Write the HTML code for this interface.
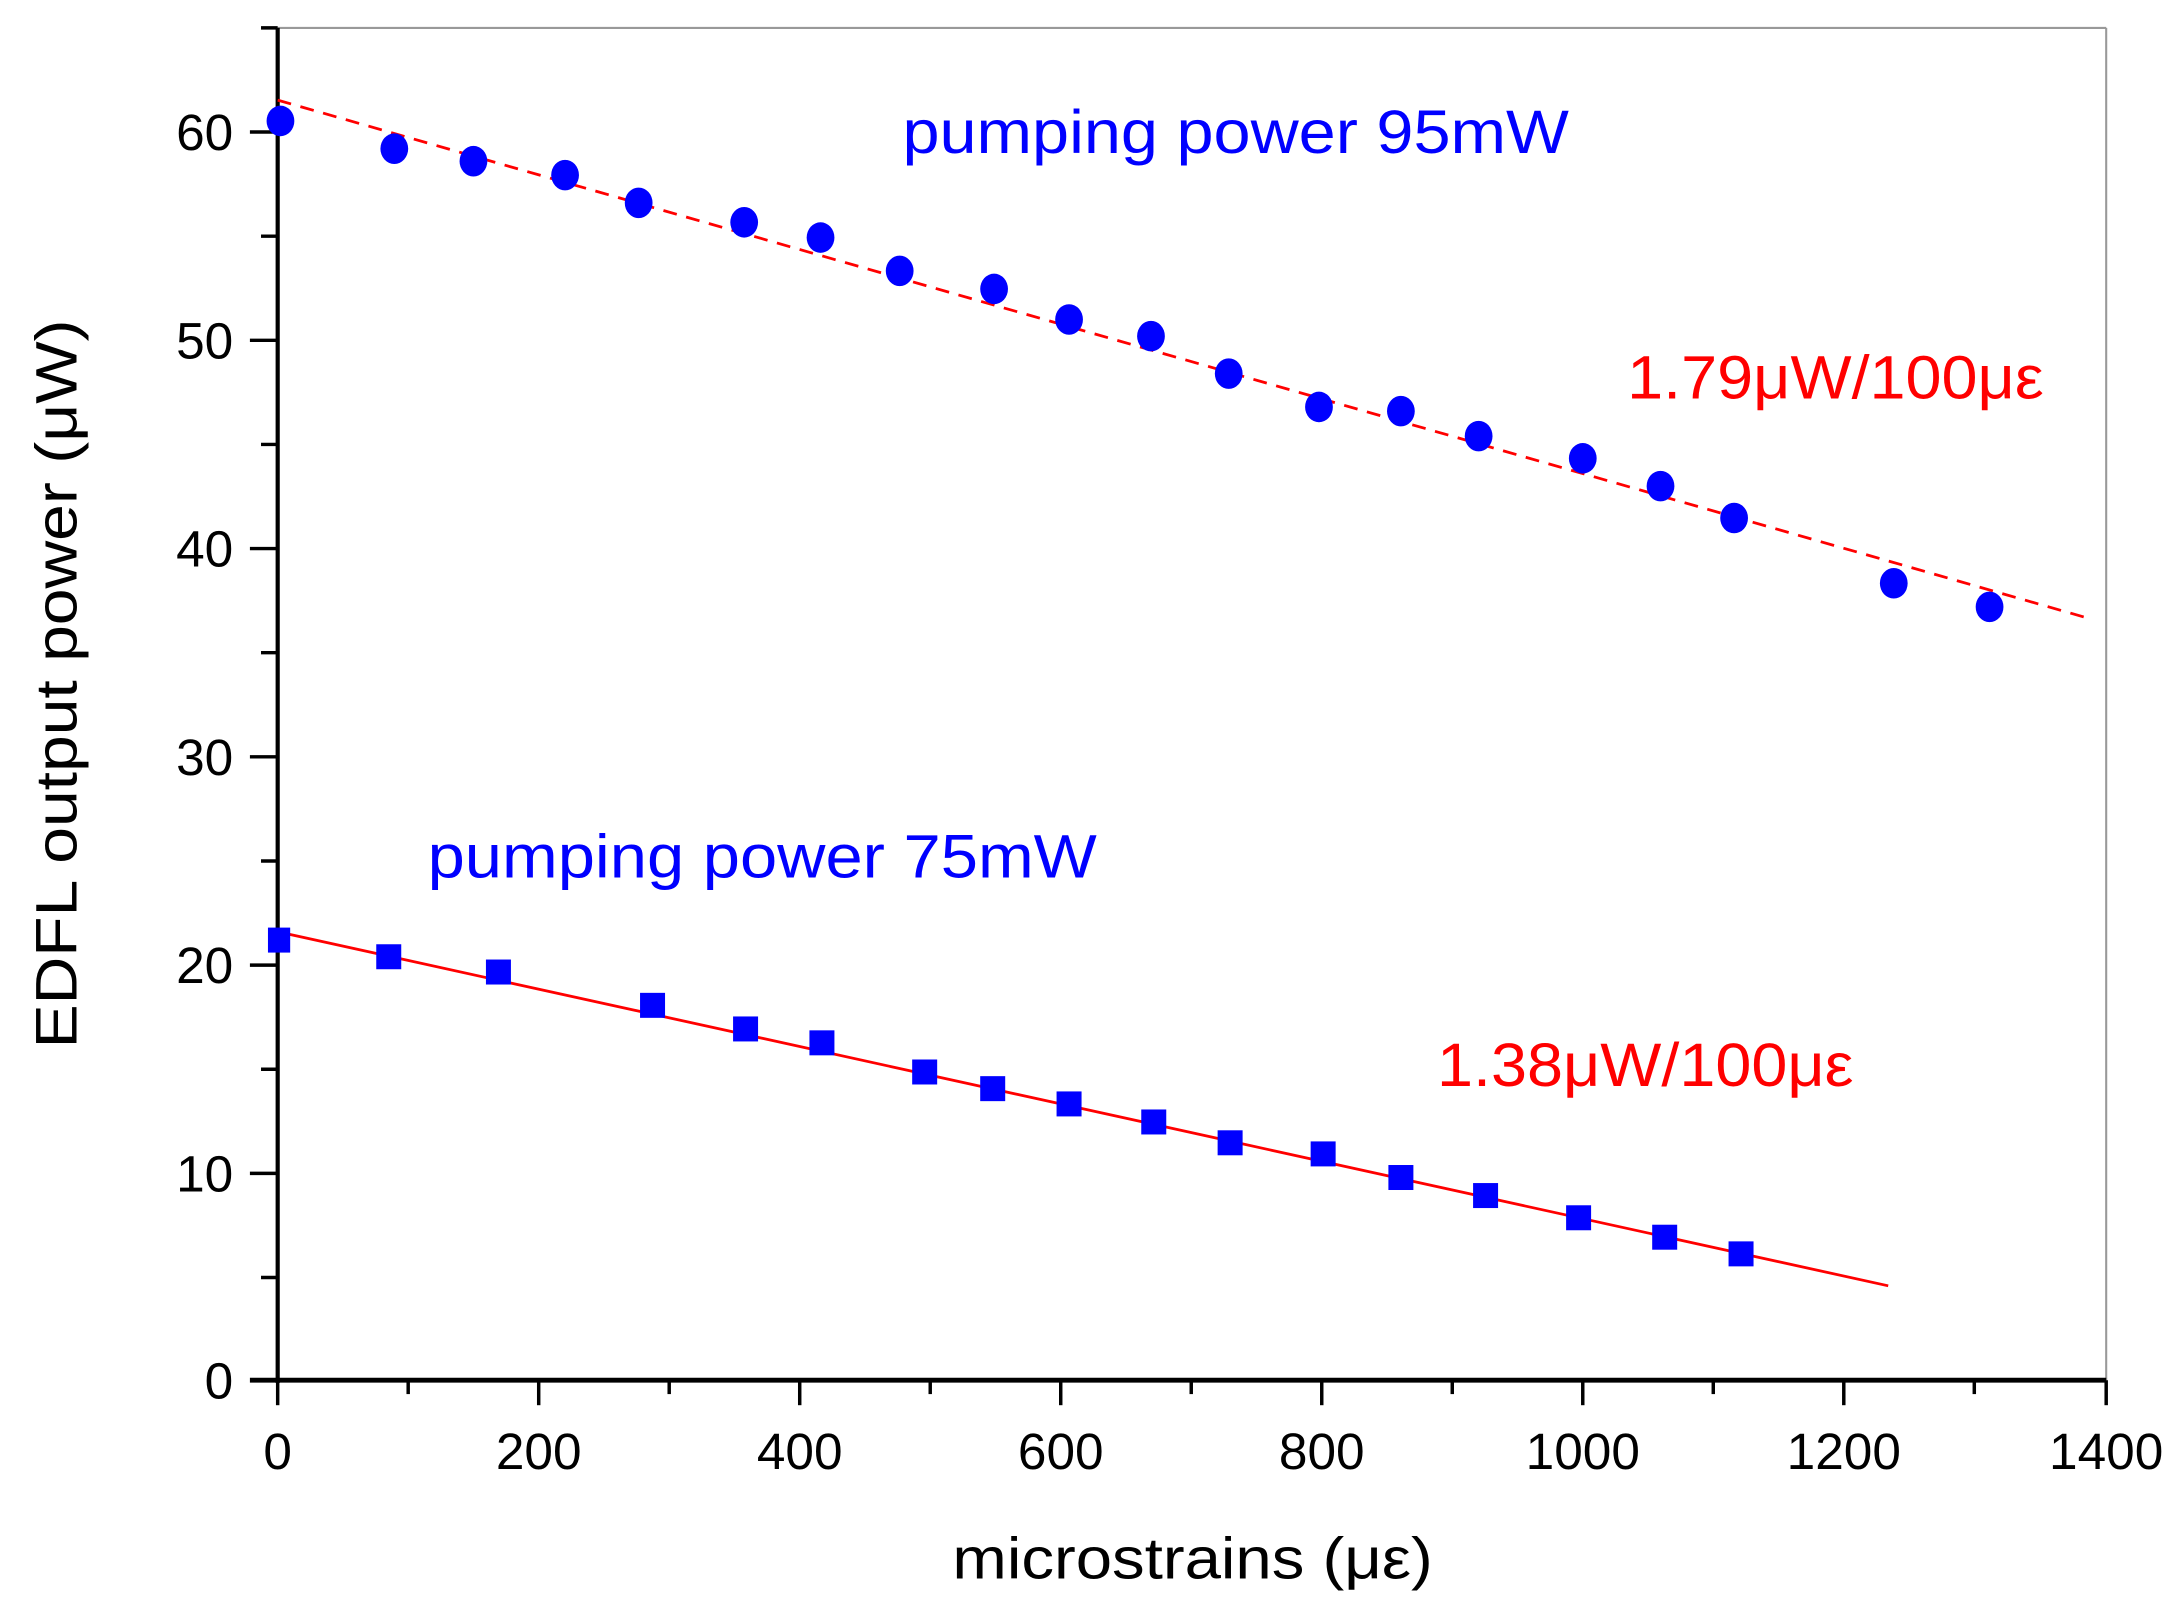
<!DOCTYPE html>
<html><head><style>html,body{margin:0;padding:0;background:#fff}svg{display:block}</style></head>
<body>
<svg width="2177" height="1615" viewBox="0 0 1568 1163" xmlns="http://www.w3.org/2000/svg" font-family="Liberation Sans, sans-serif">
<rect width="1568" height="1163" fill="#fff"/>
<line x1="200" y1="20" x2="1517" y2="20" stroke="#999" stroke-width="1.5"/>
<line x1="1517" y1="20" x2="1517" y2="994" stroke="#999" stroke-width="1.5"/>
<line x1="200" y1="20" x2="200" y2="996" stroke="#000" stroke-width="3"/>
<line x1="180" y1="994" x2="1517" y2="994" stroke="#000" stroke-width="3.5"/>
<g stroke="#000" stroke-width="2.5">
<line x1="188" y1="20" x2="200" y2="20"/>
<line x1="180" y1="95" x2="200" y2="95"/><line x1="188" y1="170" x2="200" y2="170"/>
<line x1="180" y1="245" x2="200" y2="245"/><line x1="188" y1="320" x2="200" y2="320"/>
<line x1="180" y1="395" x2="200" y2="395"/><line x1="188" y1="470" x2="200" y2="470"/>
<line x1="180" y1="545" x2="200" y2="545"/><line x1="188" y1="620" x2="200" y2="620"/>
<line x1="180" y1="695" x2="200" y2="695"/><line x1="188" y1="770" x2="200" y2="770"/>
<line x1="180" y1="845" x2="200" y2="845"/><line x1="188" y1="920" x2="200" y2="920"/>
<line x1="200" y1="994" x2="200" y2="1012"/><line x1="294" y1="994" x2="294" y2="1004"/>
<line x1="388" y1="994" x2="388" y2="1012"/><line x1="482" y1="994" x2="482" y2="1004"/>
<line x1="576" y1="994" x2="576" y2="1012"/><line x1="670" y1="994" x2="670" y2="1004"/>
<line x1="764" y1="994" x2="764" y2="1012"/><line x1="858" y1="994" x2="858" y2="1004"/>
<line x1="952" y1="994" x2="952" y2="1012"/><line x1="1046" y1="994" x2="1046" y2="1004"/>
<line x1="1140" y1="994" x2="1140" y2="1012"/><line x1="1234" y1="994" x2="1234" y2="1004"/>
<line x1="1328" y1="994" x2="1328" y2="1012"/><line x1="1422" y1="994" x2="1422" y2="1004"/>
<line x1="1517" y1="994" x2="1517" y2="1012"/>
</g>
<g font-size="37" text-anchor="end" fill="#000">
<text x="168" y="108">60</text><text x="168" y="258">50</text><text x="168" y="408">40</text>
<text x="168" y="558">30</text><text x="168" y="708">20</text><text x="168" y="858">10</text><text x="168" y="1007">0</text>
</g>
<g font-size="37" text-anchor="middle" fill="#000">
<text x="200" y="1058">0</text><text x="388" y="1058">200</text><text x="576" y="1058">400</text>
<text x="764" y="1058">600</text><text x="952" y="1058">800</text><text x="1140" y="1058">1000</text>
<text x="1328" y="1058">1200</text><text x="1517" y="1058">1400</text>
</g>
<text x="686" y="1137" font-size="42" textLength="346" lengthAdjust="spacingAndGlyphs">microstrains (με)</text>
<text transform="translate(55,755) rotate(-90)" font-size="42" textLength="525" lengthAdjust="spacingAndGlyphs">EDFL output power (μW)</text>
<line x1="200" y1="72" x2="1507" y2="446" stroke="#f00" stroke-width="2" stroke-dasharray="10,7"/>
<line x1="200" y1="671" x2="1360" y2="926" stroke="#f00" stroke-width="2"/>
<g fill="#00f">
<ellipse cx="202" cy="87" rx="10" ry="11"/><ellipse cx="284" cy="107" rx="10" ry="11"/>
<ellipse cx="341" cy="116" rx="10" ry="11"/><ellipse cx="407" cy="126" rx="10" ry="11"/>
<ellipse cx="460" cy="146" rx="10" ry="11"/><ellipse cx="536" cy="160" rx="10" ry="11"/>
<ellipse cx="591" cy="171" rx="10" ry="11"/><ellipse cx="648" cy="195" rx="10" ry="11"/>
<ellipse cx="716" cy="208" rx="10" ry="11"/><ellipse cx="770" cy="230" rx="10" ry="11"/>
<ellipse cx="829" cy="242" rx="10" ry="11"/><ellipse cx="885" cy="269" rx="10" ry="11"/>
<ellipse cx="950" cy="293" rx="10" ry="11"/><ellipse cx="1009" cy="296" rx="10" ry="11"/>
<ellipse cx="1065" cy="314" rx="10" ry="11"/><ellipse cx="1140" cy="330" rx="10" ry="11"/>
<ellipse cx="1196" cy="350" rx="10" ry="11"/><ellipse cx="1249" cy="373" rx="10" ry="11"/>
<ellipse cx="1364" cy="420" rx="10" ry="11"/><ellipse cx="1433" cy="437" rx="10" ry="11"/>
<rect x="193" y="668" width="16" height="18"/><rect x="271" y="680" width="18" height="18"/>
<rect x="350" y="691" width="18" height="18"/><rect x="461" y="715" width="18" height="18"/>
<rect x="528" y="732" width="18" height="18"/><rect x="583" y="742" width="18" height="18"/>
<rect x="657" y="763" width="18" height="18"/><rect x="706" y="775" width="18" height="18"/>
<rect x="761" y="786" width="18" height="18"/><rect x="822" y="799" width="18" height="18"/>
<rect x="877" y="814" width="18" height="18"/><rect x="944" y="822" width="18" height="18"/>
<rect x="1000" y="839" width="18" height="18"/><rect x="1061" y="852" width="18" height="18"/>
<rect x="1128" y="868" width="18" height="18"/><rect x="1190" y="882" width="18" height="18"/>
<rect x="1245" y="894" width="18" height="18"/>
</g>
<g font-size="44" lengthAdjust="spacingAndGlyphs">
<text x="650" y="110" fill="#00f" textLength="480" lengthAdjust="spacingAndGlyphs">pumping power 95mW</text>
<text x="308" y="632" fill="#00f" textLength="482" lengthAdjust="spacingAndGlyphs">pumping power 75mW</text>
<text x="1172" y="287" fill="#f00" textLength="300" lengthAdjust="spacingAndGlyphs">1.79μW/100με</text>
<text x="1035" y="782" fill="#f00" textLength="300" lengthAdjust="spacingAndGlyphs">1.38μW/100με</text>
</g>
</svg>
</body></html>
